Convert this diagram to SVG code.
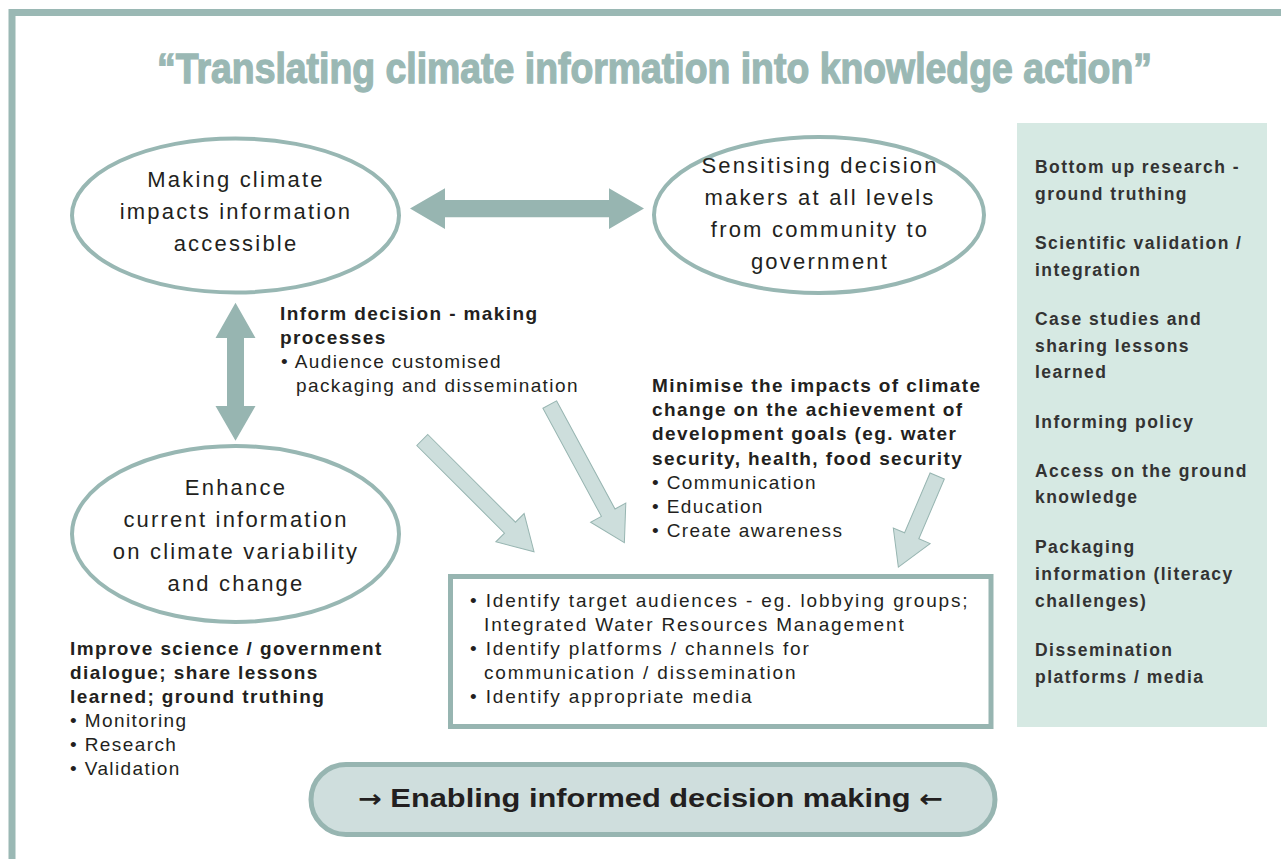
<svg xmlns="http://www.w3.org/2000/svg" width="1281" height="859" viewBox="0 0 1281 859">
<style>
.el{fill:#fff;stroke:#98b7b3;stroke-width:4}
.et{font-family:"Liberation Sans",Arial,sans-serif;font-size:22px;letter-spacing:2.2px;fill:#231f20;text-anchor:middle}
.b{font-family:"Liberation Sans",Arial,sans-serif;font-size:19px;letter-spacing:1.4px;fill:#231f20}
.bb{font-weight:bold}
.bx{letter-spacing:1.85px}
.pt{font-family:"Liberation Sans",Arial,sans-serif;font-size:17.5px;font-weight:bold;letter-spacing:1.45px;fill:#333}
.thick{fill:#97b5b1}
.light{fill:#cddedc;stroke:#97b5b1;stroke-width:1}
</style>
<rect width="1281" height="859" fill="#fff"/>
<path d="M12,859 V12.5 H1281" fill="none" stroke="#9ab8b4" stroke-width="7"/>
<g id="title">
<text x="157" y="83" textLength="995" lengthAdjust="spacingAndGlyphs" font-family="'Liberation Sans Narrow','Liberation Sans',Arial,sans-serif" font-size="42" font-weight="bold" fill="#9ab8b4" stroke="#9ab8b4" stroke-width="1.3">“Translating climate information into knowledge action”</text>
</g>
<g id="connectors">
<path class="thick" d="M410,208.6 L445,188.3 L445,200 L609,200 L609,188.3 L644,208.6 L609,229 L609,217.3 L445,217.3 L445,229 Z"/>
<path class="thick" d="M235.5,302.7 L255.5,338 L244,338 L244,406 L255.5,406 L235.5,440.7 L215.5,406 L227,406 L227,338 L215.5,338 Z"/>
<path class="light" transform="translate(422.3,440) rotate(45)" d="M0,-7.75 L124,-7.75 L124,-20 L158,0 L124,20 L124,7.75 L0,7.75 Z"/>
<path class="light" transform="translate(549.7,404.5) rotate(61.6)" d="M0,-7.75 L123,-7.75 L123,-20 L157,0 L123,20 L123,7.75 L0,7.75 Z"/>
<path class="light" transform="translate(937.2,476) rotate(113.1)" d="M0,-7.75 L65,-7.75 L65,-20 L99,0 L65,20 L65,7.75 L0,7.75 Z"/>
</g>
<g id="node-accessible">
<ellipse class="el" cx="235.5" cy="215.5" rx="163.5" ry="77"/>
<text class="et" x="236" y="187">Making climate</text>
<text class="et" x="236" y="219">impacts information</text>
<text class="et" x="236" y="251">accessible</text>
</g>
<g id="node-sensitising">
<ellipse class="el" cx="819" cy="215" rx="165" ry="78"/>
<text class="et" x="820" y="173">Sensitising decision</text>
<text class="et" x="820" y="205">makers at all levels</text>
<text class="et" x="820" y="237">from community to</text>
<text class="et" x="820" y="269">government</text>
</g>
<g id="node-enhance">
<ellipse class="el" cx="235.5" cy="534" rx="163.5" ry="88"/>
<text class="et" x="236" y="495">Enhance</text>
<text class="et" x="236" y="527">current information</text>
<text class="et" x="236" y="559">on climate variability</text>
<text class="et" x="236" y="591">and change</text>
</g>
<g id="text-inform">
<text class="b bb" x="280" y="320">Inform decision - making</text>
<text class="b bb" x="280" y="344">processes</text>
<text class="b" x="281" y="368">• Audience customised</text>
<text class="b" x="296" y="392">packaging and dissemination</text>
</g>
<g id="text-minimise">
<text class="b bb" x="652" y="392">Minimise the impacts of climate</text>
<text class="b bb" x="652" y="416">change on the achievement of</text>
<text class="b bb" x="652" y="440">development goals (eg. water</text>
<text class="b bb" x="652" y="465">security, health, food security</text>
<text class="b" x="652" y="489">• Communication</text>
<text class="b" x="652" y="513">• Education</text>
<text class="b" x="652" y="537">• Create awareness</text>
</g>
<g id="node-identify">
<rect x="450.5" y="576.5" width="540.5" height="150" fill="#fff" stroke="#97b5b1" stroke-width="5"/>
<text class="b bx" x="470" y="607">• Identify target audiences - eg. lobbying groups;</text>
<text class="b bx" x="484" y="631">Integrated Water Resources Management</text>
<text class="b bx" x="470" y="655">• Identify platforms / channels for</text>
<text class="b bx" x="484" y="679">communication / dissemination</text>
<text class="b bx" x="470" y="703">• Identify appropriate media</text>
</g>
<g id="text-improve">
<text class="b bb" x="70" y="655">Improve science / government</text>
<text class="b bb" x="70" y="679">dialogue; share lessons</text>
<text class="b bb" x="70" y="703">learned; ground truthing</text>
<text class="b" x="70" y="727">• Monitoring</text>
<text class="b" x="70" y="751">• Research</text>
<text class="b" x="70" y="775">• Validation</text>
</g>
<g id="node-panel">
<rect x="1017" y="123" width="250" height="604" fill="#d6e9e3"/>
<text class="pt" x="1035" y="173">Bottom up research -</text>
<text class="pt" x="1035" y="200">ground truthing</text>
<text class="pt" x="1035" y="249">Scientific validation /</text>
<text class="pt" x="1035" y="276">integration</text>
<text class="pt" x="1035" y="325">Case studies and</text>
<text class="pt" x="1035" y="352">sharing lessons</text>
<text class="pt" x="1035" y="378">learned</text>
<text class="pt" x="1035" y="428">Informing policy</text>
<text class="pt" x="1035" y="477">Access on the ground</text>
<text class="pt" x="1035" y="503">knowledge</text>
<text class="pt" x="1035" y="553">Packaging</text>
<text class="pt" x="1035" y="580">information (literacy</text>
<text class="pt" x="1035" y="607">challenges)</text>
<text class="pt" x="1035" y="656">Dissemination</text>
<text class="pt" x="1035" y="683">platforms / media</text>
</g>
<g id="node-enabling">
<rect x="311" y="764.5" width="684" height="70" rx="35" ry="35" fill="#cfdedd" stroke="#97b5b1" stroke-width="5"/>
<text x="358" y="807" textLength="585" lengthAdjust="spacingAndGlyphs" font-family="'Liberation Sans',Arial,sans-serif" font-size="26" font-weight="bold" fill="#231f20"><tspan font-family="'DejaVu Sans',sans-serif" font-size="24">→</tspan> Enabling informed decision making <tspan font-family="'DejaVu Sans',sans-serif" font-size="24">←</tspan></text>
</g>
</svg>
